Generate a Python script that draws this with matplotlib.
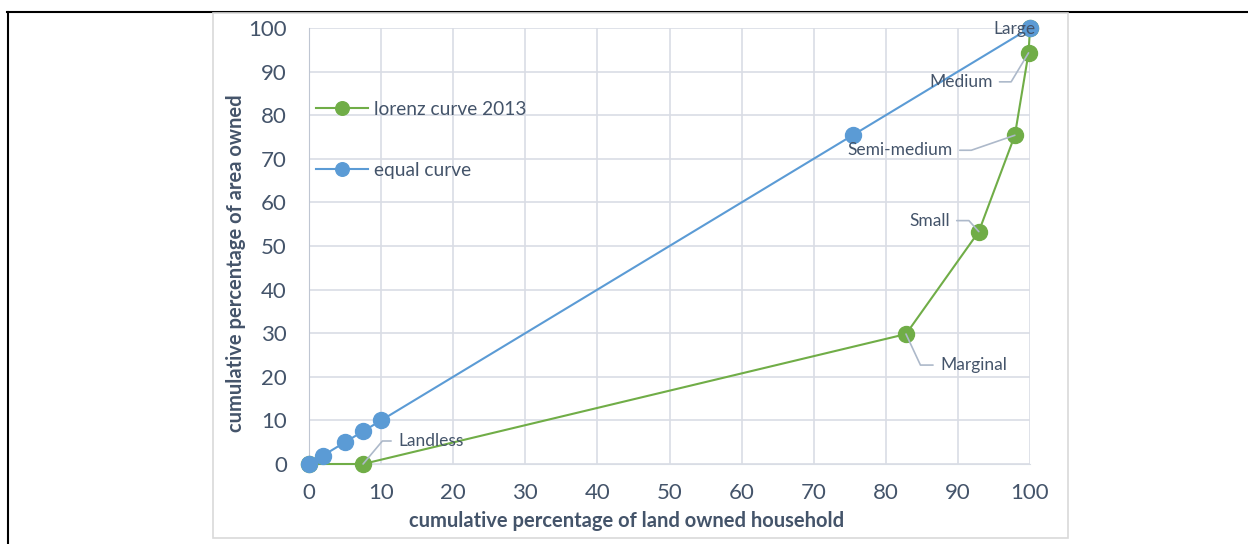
import matplotlib
matplotlib.use("Agg")
import matplotlib.pyplot as plt
from matplotlib.patches import Rectangle
from matplotlib.lines import Line2D

plt.rcParams['font.family'] = ['Lato', 'DejaVu Sans']

# Data
lorenz_x = [0, 7.5, 82.8, 92.9, 97.9, 99.8, 100]
lorenz_y = [0, 0, 29.8, 53.3, 75.4, 94.3, 100]
equal_x = [0, 1.9, 5.0, 7.5, 10, 75.5, 100]
equal_y = [0, 1.9, 5.0, 7.5, 10, 75.5, 100]
class_labels = ['Landless', 'Marginal', 'Small', 'Semi-medium', 'Medium', 'Large']
x_ticks = list(range(0, 101, 10))
y_ticks = list(range(0, 101, 10))

green = '#70AD47'
blue = '#5B9BD5'
txt = '#44546A'
grid_c = '#D9DDE5'
lead_c = '#ADB9CA'

W, H = 1248, 544
fig = plt.figure(figsize=(W / 100, H / 100), dpi=100)

# page border lines and chart frame
fig.add_artist(Line2D([7 / W, 1], [1 - 12 / H, 1 - 12 / H], color='black', lw=1.5, zorder=-2))
fig.add_artist(Line2D([8 / W, 8 / W], [0, 1 - 12 / H], color='black', lw=1.5, zorder=-2))
fig.add_artist(Rectangle((213 / W, 1 - 538 / H), (1068 - 213) / W, (538 - 13) / H,
                         facecolor='white', edgecolor='#D9D9D9', lw=1.2, zorder=-1))

ax = fig.add_axes([309 / W, 1 - 464 / H, 721 / W, 436 / H])
ax.set_facecolor('none')

ax.plot(lorenz_x, lorenz_y, color=green, lw=1.5, marker='o', ms=11.5,
        label='lorenz curve 2013', zorder=3, clip_on=False)
ax.plot(equal_x, equal_y, color=blue, lw=1.5, marker='o', ms=11.5,
        label='equal curve', zorder=4, clip_on=False)

ax.set_xlim(0, 100)
ax.set_ylim(0, 100)
ax.set_xticks(x_ticks)
ax.set_yticks(y_ticks)
ax.tick_params(length=0, labelsize=16, colors=txt)
ax.tick_params(axis='x', pad=14)
ax.tick_params(axis='y', pad=16)
ax.grid(True, color=grid_c, lw=1.2, zorder=0)
ax.set_axisbelow(True)
for s in ['top', 'right']:
    ax.spines[s].set_visible(False)
ax.spines['left'].set_color('#BFC6D2')
ax.spines['bottom'].set_color(grid_c)

ax.set_xlabel('cumulative percentage of land owned household', fontsize=14.5,
              fontweight='bold', color=txt)
ax.set_ylabel('cumulative percentage of area owned', fontsize=14.5,
              fontweight='bold', color=txt)
ax.xaxis.set_label_coords(0.44, -0.108)
ax.yaxis.set_label_coords(-0.087, 0.461)

leg = ax.legend(loc='center left', bbox_to_anchor=(0.0097, 0.744), frameon=False,
                fontsize=13.8, labelspacing=2.3, handlelength=2.7, handletextpad=0.35,
                borderpad=0, borderaxespad=0, markerscale=0.85)
for t in leg.get_texts():
    t.set_color(txt)

# data callouts: (offset px, alignment, leader angle at point)
callouts = [
    ((35, 23), 'left', 50),
    ((34, -31), 'left', -65),
    ((-29, 11), 'right', 132),
    ((-62, -15), 'right', 19),
    ((-36, -29), 'right', 59),
]
for i, (off, ha, ang) in enumerate(callouts):
    px, py = lorenz_x[i + 1], lorenz_y[i + 1]
    rel = (0, 0.5) if ha == 'left' else (1, 0.5)
    ax.annotate(class_labels[i], xy=(px, py), xytext=off, textcoords='offset pixels',
                ha=ha, va='center', fontsize=12.5, color=txt, zorder=6,
                arrowprops=dict(arrowstyle='-', color=lead_c, lw=1.2, shrinkA=3, shrinkB=0,
                                relpos=rel,
                                connectionstyle=f'angle,angleA=0,angleB={ang},rad=0'))

ax.annotate(class_labels[5], xy=(equal_x[-1], equal_y[-1]), xytext=(-16, -1),
            textcoords='offset pixels', ha='center', va='center', fontsize=12.5,
            color=txt, zorder=6)

fig.savefig('out.png', dpi=100)
